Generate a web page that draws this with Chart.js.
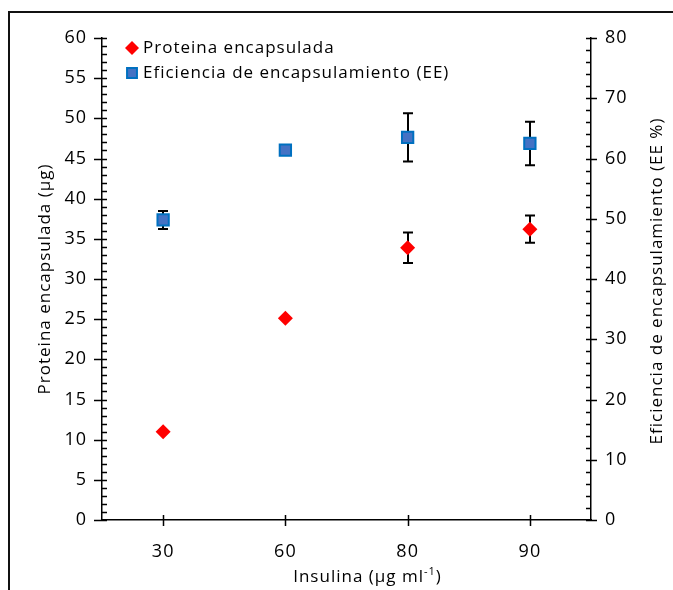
<!DOCTYPE html>
<html>
<head>
<meta charset="utf-8">
<script src="https://cdn.jsdelivr.net/npm/chart.js@4.4.1/dist/chart.umd.min.js"></script>
<style>
  html, body { margin: 0; padding: 0; background: #fff; overflow: hidden; }
  #wrap { position: relative; width: 673px; height: 590px; }
  #frame { position: absolute; left: 8px; top: 11px; width: 700px; height: 620px; border: 2px solid #111; box-sizing: border-box; }
  #chart { position: absolute; left: 0; top: 0; }
</style>
</head>
<body>
<div id="wrap">
  <div id="frame"></div>
  <canvas id="chart" width="673" height="590"></canvas>
</div>
<script>
// Insulin dose (x categories)
const doses = ['30', '60', '80', '90'];
// Encapsulated protein (µg) and its error
const proteina = [11.0, 25.1, 33.9, 36.2];
const proteinaErr = [0, 0, 1.9, 1.7];
// Encapsulation efficiency (%) and its error
const eficiencia = [49.8, 61.4, 63.5, 62.5];
const eficienciaErr = [1.5, 0, 4.0, 3.6];
// Axis ranges and tick steps
const leftMax = 60, leftStep = 5, leftMinor = 1;
const rightMax = 80, rightStep = 10, rightMinor = 2;

const FONT = "'Open Sans', 'DejaVu Sans', sans-serif";
const tickFont = { family: FONT, size: 18 };
const rightTitle = 'Eficiencia de encapsulamiento (EE %)';

// Slightly wider text spacing everywhere
const spacing = {
    id: 'spacing',
    beforeUpdate(chart) { chart.ctx.letterSpacing = '1px'; }
};

// Tick marks: majors cross the axis, minors point inward
const axisTicks = {
    id: 'axisTicks',
    beforeDatasetsDraw(chart) {
        const ctx = chart.ctx;
        const a = chart.chartArea;
        const s = chart.scales;
        ctx.save();
        ctx.strokeStyle = '#000';
        ctx.lineWidth = 1.5;
        ctx.beginPath();
        for (let v = 0; v <= leftMax; v += leftMinor) {
            const y = Math.round(s.y.getPixelForValue(v)) + 0.5;
            ctx.moveTo(v % leftStep === 0 ? a.left - 8 : a.left, y);
            ctx.lineTo(a.left + 5, y);
        }
        for (let v = 0; v <= rightMax; v += rightMinor) {
            const y = Math.round(s.y1.getPixelForValue(v)) + 0.5;
            ctx.moveTo(v % rightStep === 0 ? a.right + 6 : a.right, y);
            ctx.lineTo(a.right - 5, y);
        }
        doses.forEach(function(d, i) {
            const x = Math.round(s.x.getPixelForValue(i)) + 0.5;
            ctx.moveTo(x, a.bottom - 5);
            ctx.lineTo(x, a.bottom + 6);
        });
        ctx.stroke();
        ctx.restore();
    }
};

// Vertical error bars behind the markers
const errorBars = {
    id: 'errorBars',
    beforeDatasetsDraw(chart) {
        const ctx = chart.ctx;
        ctx.save();
        ctx.strokeStyle = '#000';
        ctx.lineWidth = 2;
        chart.data.datasets.forEach(function(ds, i) {
            const meta = chart.getDatasetMeta(i);
            const yScale = chart.scales[ds.yAxisID];
            meta.data.forEach(function(pt, j) {
                const err = ds.errors[j];
                if (!err) return;
                const x = Math.round(pt.x);
                const top = yScale.getPixelForValue(ds.data[j] + err);
                const bot = yScale.getPixelForValue(ds.data[j] - err);
                ctx.beginPath();
                ctx.moveTo(x, top); ctx.lineTo(x, bot);
                ctx.moveTo(x - 5, top); ctx.lineTo(x + 5, top);
                ctx.moveTo(x - 5, bot); ctx.lineTo(x + 5, bot);
                ctx.stroke();
            });
        });
        ctx.restore();
    }
};

// Legend in the top-left corner, right axis title and x title with superscript
const extras = {
    id: 'extras',
    afterDraw(chart) {
        const ctx = chart.ctx;
        const a = chart.chartArea;
        ctx.save();
        ctx.letterSpacing = '1px';
        ctx.font = '17px ' + FONT;
        ctx.textBaseline = 'middle';
        const x0 = a.left + 30;
        let y = a.top + 10;
        chart.data.datasets.forEach(function(ds) {
            ctx.fillStyle = ds.backgroundColor;
            ctx.strokeStyle = ds.borderColor;
            ctx.lineWidth = ds.borderWidth;
            Chart.helpers.drawPoint(ctx, {
                pointStyle: ds.pointStyle,
                radius: ds.legendRadius,
                borderWidth: ds.borderWidth
            }, x0, y);
            ctx.fillStyle = '#000';
            ctx.fillText(ds.label, x0 + 11, y);
            y += 25;
        });

        // right axis title, reading bottom to top
        ctx.save();
        ctx.textAlign = 'center';
        ctx.translate(657, (a.top + a.bottom) / 2 + 2);
        ctx.rotate(-Math.PI / 2);
        ctx.fillText(rightTitle, 0, 0);
        ctx.restore();

        // x title: Insulina (µg ml^-1)
        const parts = [
            { t: 'Insulina (µg ml', f: '17px ' + FONT, dy: 0 },
            { t: '-1', f: '11px ' + FONT, dy: -7 },
            { t: ')', f: '17px ' + FONT, dy: 0 }
        ];
        ctx.textBaseline = 'alphabetic';
        let total = 0;
        parts.forEach(function(p) { ctx.font = p.f; p.w = ctx.measureText(p.t).width; total += p.w; });
        let x = (a.left + a.right) / 2 + 21 - total / 2;
        parts.forEach(function(p) {
            ctx.font = p.f;
            ctx.fillText(p.t, x, 582 + p.dy);
            x += p.w;
        });
        ctx.restore();
    }
};

const ctx = document.getElementById('chart').getContext('2d');
const chart = new Chart(ctx, {
    type: 'line',
    data: {
        labels: doses,
        datasets: [{
            label: 'Proteina encapsulada',
            data: proteina,
            errors: proteinaErr,
            yAxisID: 'y',
            showLine: false,
            pointStyle: 'rectRot',
            pointRadius: 7.5,
            legendRadius: 7,
            backgroundColor: '#FF0000',
            borderColor: '#FF0000',
            borderWidth: 0
        }, {
            label: 'Eficiencia de encapsulamiento (EE)',
            data: eficiencia,
            errors: eficienciaErr,
            yAxisID: 'y1',
            showLine: false,
            pointStyle: 'rect',
            pointRadius: 8,
            legendRadius: 7,
            backgroundColor: '#4472C4',
            borderColor: '#0070C0',
            borderWidth: 2
        }]
    },
    options: {
        responsive: false,
        animation: false,
        devicePixelRatio: 1,
        layout: { padding: { top: 38, left: 0, right: 0, bottom: 0 } },
        plugins: {
            legend: { display: false },
            tooltip: { enabled: false }
        },
        scales: {
            x: {
                type: 'category',
                offset: true,
                grid: { display: true, drawOnChartArea: false, drawTicks: false, offset: false },
                border: { color: '#000', width: 1.5 },
                ticks: { font: tickFont, color: '#000', padding: 21 },
                afterFit: function(s) { s.height = 70; }
            },
            y: {
                position: 'left',
                min: 0,
                max: leftMax,
                grid: { display: true, drawOnChartArea: false, drawTicks: false },
                border: { color: '#000', width: 1.5 },
                ticks: { stepSize: leftStep, font: tickFont, color: '#000', padding: 15 },
                title: { display: true, text: 'Proteina encapsulada (µg)', font: { family: FONT, size: 17 }, color: '#000', padding: { top: 35, bottom: 0 } },
                afterFit: function(s) { s.width = 102; }
            },
            y1: {
                position: 'right',
                min: 0,
                max: rightMax,
                grid: { display: true, drawOnChartArea: false, drawTicks: false },
                border: { color: '#000', width: 1.5 },
                ticks: { stepSize: rightStep, font: tickFont, color: '#000', padding: 14 },
                afterFit: function(s) { s.width = 82; }
            }
        }
    },
    plugins: [spacing, axisTicks, errorBars, extras]
});
</script>
</body>
</html>
